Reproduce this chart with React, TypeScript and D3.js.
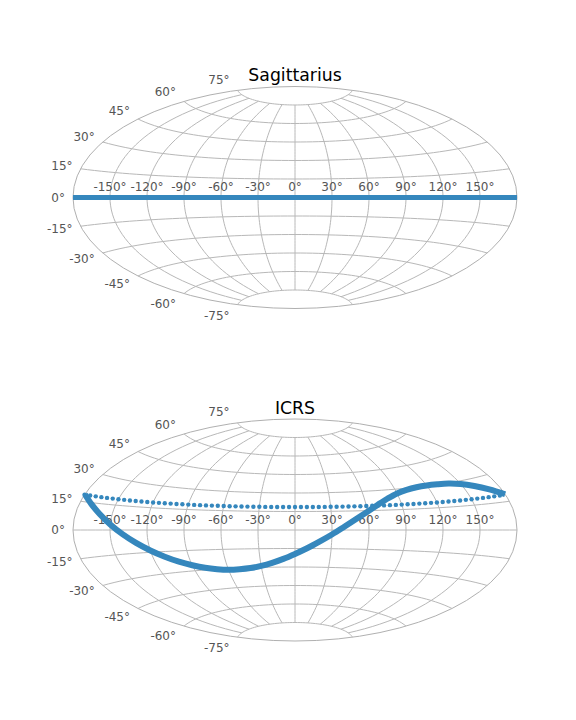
import React from "react";
import * as d3 from "d3";

const WIDTH = 576;
const HEIGHT = 720;
const LEFT = 73;
const RIGHT = 517;
const CENTERS = [197.5, 530];
const HALF_H = 111;
const BLUE = "#3587bd";
const GRID = "#b8b8b8";
const TEXT = "#555555";

const lonTicks = [-150, -120, -90, -60, -30, 0, 30, 60, 90, 120, 150];
const latTicks = [-75, -60, -45, -30, -15, 0, 15, 30, 45, 60, 75];

// Sagittarius frame: the stream lies on the equator
const sgrLon = [-180, -150, -120, -90, -60, -30, 0, 30, 60, 90, 120, 150, 180];
const sgrLat = [0, 0, 0, 0, 0, 0, 0, 0, 0, 0, 0, 0, 0];

// ICRS frame: thick track
const trackLon = [-180, -170, -160, -150, -140, -130, -120, -110, -100, -90, -80, -70, -60, -50, -40, -30, -20, -10, 0, 10, 20, 30, 40, 50, 60, 70, 80, 90, 100, 110, 120, 130, 140, 150, 160, 170, 180];
const trackLat = [18.8, 14.2, 9, 3.3, -2.6, -8.4, -13.8, -18.6, -22.7, -25.9, -28.4, -30, -30.9, -30.9, -30.3, -28.8, -26.5, -23.4, -19.4, -14.8, -9.4, -3.6, 2.6, 8.6, 14.2, 19.3, 23.6, 26.9, 28.9, 30, 30.4, 30.2, 29.6, 28.2, 25.8, 22.6, 18.8];

// ICRS frame: dotted track
const dotLon = [-180, -175, -170, -165, -160, -155, -150, -145, -140, -135, -130, -125, -120, -115, -110, -105, -100, -95, -90, -85, -80, -75, -70, -65, -60, -55, -50, -45, -40, -35, -30, -25, -20, -15, -10, -5, 0, 5, 10, 15, 20, 25, 30, 35, 40, 45, 50, 55, 60, 65, 70, 75, 80, 85, 90, 95, 100, 105, 110, 115, 120, 125, 130, 135, 140, 145, 150, 155, 160, 165, 170, 175];
const dotLat = [18.6, 18.6, 18.6, 18.6, 18.6, 18.6, 18.6, 18.6, 18.6, 18.6, 18.6, 18.6, 18.6, 18.6, 18.6, 18.6, 18.6, 18.6, 18.6, 18.6, 18.6, 18.6, 18.6, 18.6, 18.6, 18.6, 18.6, 18.6, 18.6, 18.6, 18.6, 18.6, 18.6, 18.6, 18.6, 18.6, 18.6, 18.6, 18.6, 18.6, 18.6, 18.6, 18.6, 18.6, 18.6, 18.6, 18.6, 18.6, 18.6, 18.6, 18.6, 18.6, 18.6, 18.6, 18.6, 18.6, 18.6, 18.6, 18.6, 18.6, 18.6, 18.6, 18.6, 18.6, 18.6, 18.6, 18.6, 18.6, 18.6, 18.6, 18.6, 18.6];

const xScale = d3.scaleLinear().domain([-Math.PI, Math.PI]).range([LEFT, RIGHT]);

function aitoff(lonDeg: number, latDeg: number): [number, number] {
  const lon = (lonDeg * Math.PI) / 180;
  const lat = (latDeg * Math.PI) / 180;
  const alpha = Math.acos(Math.cos(lat) * Math.cos(lon / 2));
  const sinc = alpha === 0 ? 1 : Math.sin(alpha) / alpha;
  return [(2 * Math.cos(lat) * Math.sin(lon / 2)) / sinc, Math.sin(lat) / sinc];
}

function Panel({ title, cy, children }: { title: string; cy: number; children: (p: (lon: number, lat: number) => [number, number]) => React.ReactNode }) {
  const yScale = d3.scaleLinear().domain([-Math.PI / 2, Math.PI / 2]).range([cy + HALF_H, cy - HALF_H]);
  const project = (lon: number, lat: number): [number, number] => {
    const [x, y] = aitoff(lon, lat);
    return [xScale(x), yScale(y)];
  };
  const line = d3.line<[number, number]>().x((d) => d[0]).y((d) => d[1]);
  const steps = d3.range(0, 61).map((i) => i / 60);
  return (
    <g>
      <ellipse cx={(LEFT + RIGHT) / 2} cy={cy} rx={(RIGHT - LEFT) / 2} ry={HALF_H} fill="#fff" stroke="#b0b0b0" strokeWidth={1} />
      {latTicks.map((lat) => (
        <path key={"la" + lat} d={line(steps.map((t) => project(-180 + 360 * t, lat))) || ""} fill="none" stroke={GRID} strokeWidth={1} />
      ))}
      {lonTicks.map((lon) => (
        <path key={"lo" + lon} d={line(steps.map((t) => project(lon, -75 + 150 * t))) || ""} fill="none" stroke={GRID} strokeWidth={1} />
      ))}
      {lonTicks.map((lon) => (
        <text key={"tx" + lon} x={project(lon, 0)[0]} y={Math.floor(cy) - 6} textAnchor="middle" fontFamily="DejaVu Sans" fontSize={12} fill={TEXT}>
          {lon + "°"}
        </text>
      ))}
      {latTicks.map((lat) => {
        const [x, y] = project(-180, lat);
        return (
          <text key={"ty" + lat} x={x - 8} y={cy + (y - cy) * 1.1} dy="0.36em" textAnchor="end" fontFamily="DejaVu Sans" fontSize={12} fill={TEXT}>
            {lat + "°"}
          </text>
        );
      })}
      {children(project)}
      <text x={295} y={Math.floor(cy) - 116} textAnchor="middle" fontFamily="DejaVu Sans" fontSize={17.3} fill="#000">
        {title}
      </text>
    </g>
  );
}

export default function App() {
  const line = d3.line<[number, number]>().x((d) => d[0]).y((d) => d[1]);
  return (
    <svg width={WIDTH} height={HEIGHT} style={{ position: "absolute", left: 0, top: 0 }}>
      <rect width={WIDTH} height={HEIGHT} fill="#fff" />
      <Panel title="Sagittarius" cy={CENTERS[0]}>
        {(p) => <path d={line(sgrLon.map((lon, i) => p(lon, sgrLat[i]))) || ""} fill="none" stroke={BLUE} strokeWidth={5} />}
      </Panel>
      <Panel title="ICRS" cy={CENTERS[1]}>
        {(p) => (
          <g>
            {dotLon.map((lon, i) => {
              const [x, y] = p(lon, dotLat[i]);
              return <circle key={i} cx={x} cy={y} r={2.2} fill={BLUE} />;
            })}
            <path
              d={d3.line<[number, number]>().x((d) => d[0]).y((d) => d[1]).curve(d3.curveCatmullRom)(trackLon.map((lon, i) => p(lon, trackLat[i]))) || ""}
              fill="none"
              stroke={BLUE}
              strokeWidth={6}
            />
          </g>
        )}
      </Panel>
    </svg>
  );
}
